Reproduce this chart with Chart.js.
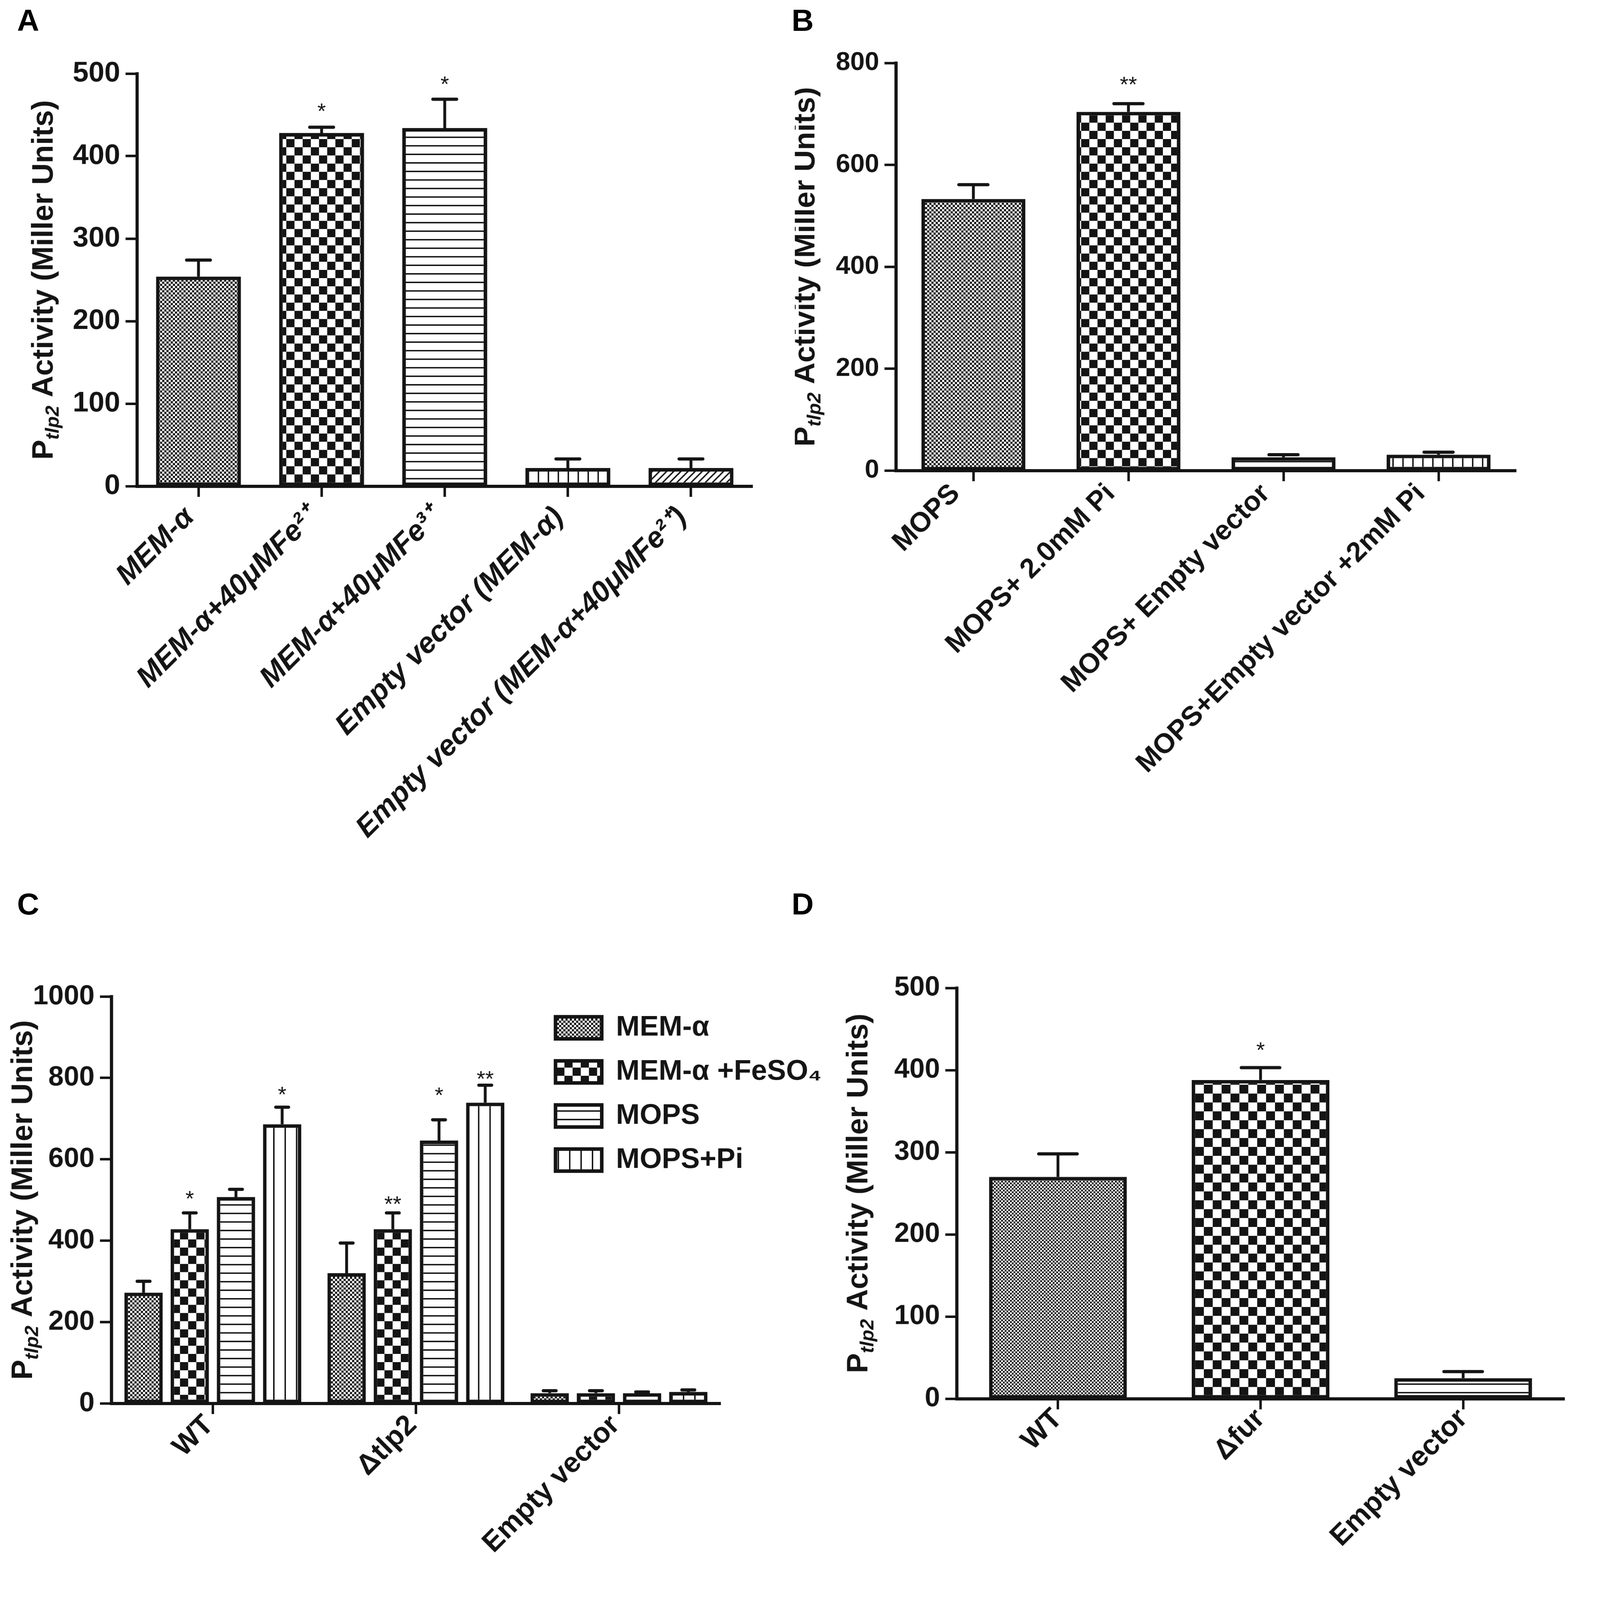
<!DOCTYPE html>
<html><head><meta charset="utf-8">
<script src="https://cdn.jsdelivr.net/npm/chart.js@4"></script>
<style>
html,body{margin:0;padding:0;background:#fff;overflow:hidden;}
#wrap{width:4470px;height:4499px;position:relative;transform-origin:0 0;background:#fff;}
canvas{position:absolute;}
.lbl{position:absolute;font:bold 86px "Liberation Sans",Arial,sans-serif;color:#000;line-height:1;}
</style></head><body>
<div id="wrap">
<div class="lbl" style="left:48px;top:14px">A</div>
<div class="lbl" style="left:2226px;top:14px">B</div>
<div class="lbl" style="left:48px;top:2498px">C</div>
<div class="lbl" style="left:2226px;top:2498px">D</div>
<canvas id="cA" width="2235" height="2450" style="left:0;top:0"></canvas>
<canvas id="cB" width="2235" height="2450" style="left:2235px;top:0"></canvas>
<canvas id="cC" width="2400" height="2049" style="left:0;top:2450px"></canvas>
<canvas id="cD" width="2235" height="2049" style="left:2235px;top:2450px"></canvas>
</div>
<script>
// ---------------- DATA ----------------
const catsA = ['MEM-\u03b1', 'MEM-\u03b1+40\u03bcMFe\u00b2\u207a', 'MEM-\u03b1+40\u03bcMFe\u00b3\u207a', 'Empty vector (MEM-\u03b1)', 'Empty vector (MEM-\u03b1+40\u03bcMFe\u00b2\u207a)'];
const valsA = [254, 428, 434, 22, 22];
const errA = [274, 435, 469, 33, 33];
const starA = ['', '*', '*', '', ''];
const starPosA = [null, 461, 494, null, null];
const yTicksA = [0, 100, 200, 300, 400, 500];

const catsB = ['MOPS', 'MOPS+ 2.0mM Pi', 'MOPS+ Empty vector', 'MOPS+Empty vector +2mM Pi'];
const valsB = [533, 704, 26, 31];
const errB = [561, 720, 31, 36];
const starB = ['', '**', '', ''];
const starPosB = [null, 768, null, null];
const yTicksB = [0, 200, 400, 600, 800];

const catsC = ['WT', '\u0394tlp2', 'Empty vector'];
const seriesC = ['MEM-\u03b1', 'MEM-\u03b1 +FeSO\u2084', 'MOPS', 'MOPS+Pi'];
const memC = [272, 320, 25];
const memErrC = [300, 394, 31];
const memStarC = ['', '', ''];
const memStarPosC = [null, null, null];
const feC = [428, 428, 25];
const feErrC = [468, 468, 31];
const feStarC = ['*', '**', ''];
const feStarPosC = [516, 503, null];
const mopsC = [507, 646, 25];
const mopsErrC = [526, 697, 28];
const mopsStarC = ['', '*', ''];
const mopsStarPosC = [null, 771, null];
const piC = [686, 739, 28];
const piErrC = [728, 782, 33];
const piStarC = ['*', '**', ''];
const piStarPosC = [772, 811, null];
const yTicksC = [0, 200, 400, 600, 800, 1000];

const catsD = ['WT', '\u0394fur', 'Empty vector'];
const valsD = [270, 388, 25];
const errD = [298, 403, 33];
const starD = ['', '*', ''];
const starPosD = [null, 431, null];
const yTicksD = [0, 100, 200, 300, 400, 500];

// ---------------- FIT PAGE TO VIEWPORT ----------------
(function () {
  const s = Math.min(window.innerWidth / 4470, window.innerHeight / 4499);
  if (s > 0 && Math.abs(s - 1) > 0.002) document.getElementById('wrap').style.transform = 'scale(' + s + ')';
})();

// ---------------- STYLE ----------------
const INK = '#141414';
const SANS = '"Liberation Sans", Arial, sans-serif';

function pat(draw, w, h) {
  const c = document.createElement('canvas');
  c.width = w; c.height = h;
  const x = c.getContext('2d');
  x.fillStyle = '#fff'; x.fillRect(0, 0, w, h);
  x.fillStyle = INK; x.strokeStyle = INK;
  draw(x, w, h);
  return x.createPattern(c, 'repeat');
}
const check = (s) => pat((x) => { x.fillRect(0, 0, s, s); x.fillRect(s, s, s, s); }, 2 * s, 2 * s);
const hStripe = (p, lw) => pat((x) => { x.fillRect(0, 0, p, lw); }, p, p);
const vStripe = (p, lw) => pat((x) => { x.fillRect(0, 0, lw, p); }, p, p);
const diag = (p, lw) => pat((x) => {
  x.lineWidth = lw;
  x.beginPath();
  x.moveTo(-p, 2 * p); x.lineTo(2 * p, -p);
  x.moveTo(-p, p); x.lineTo(p, -p);
  x.moveTo(0, 2 * p); x.lineTo(2 * p, 0);
  x.stroke();
}, p, p);

const fine = check(6), fineD = check(5), coarse = check(23), coarseD = check(25);
const hs = hStripe(24, 4), vs = vStripe(28, 4), vsC = vStripe(32, 4), dg = diag(20, 4);

// ---------------- PLUGINS ----------------
const errPlugin = {
  id: 'errbars',
  afterDatasetsDraw(chart) {
    const ctx = chart.ctx, ys = chart.scales.y;
    const o = chart.options.plugins.errbars;
    chart.data.datasets.forEach((ds, i) => {
      const meta = chart.getDatasetMeta(i);
      meta.data.forEach((bar, j) => {
        const yv = ys.getPixelForValue(ds.data[j]);
        const ye = ys.getPixelForValue(ds.err[j]);
        const cw = Math.max(o.capMin, bar.width * o.capFrac);
        ctx.save();
        ctx.strokeStyle = INK;
        ctx.lineWidth = o.lw;
        ctx.beginPath(); ctx.moveTo(bar.x, yv); ctx.lineTo(bar.x, ye); ctx.stroke();
        ctx.lineWidth = o.capLw;
        ctx.lineCap = 'round';
        ctx.beginPath(); ctx.moveTo(bar.x - cw / 2, ye); ctx.lineTo(bar.x + cw / 2, ye); ctx.stroke();
        if (ds.stars && ds.stars[j]) {
          const sy = ys.getPixelForValue(ds.starPos[j]);
          ctx.fillStyle = INK;
          ctx.font = o.starSize + 'px ' + SANS;
          ctx.textAlign = 'center';
          ctx.textBaseline = 'alphabetic';
          ctx.fillText(ds.stars[j], bar.x, sy + 0.575 * o.starSize);
        }
        ctx.restore();
      });
    });
  }
};

const titlePlugin = {
  id: 'ytitle',
  afterDraw(chart) {
    const o = chart.options.plugins.ytitle;
    const a = chart.chartArea, ctx = chart.ctx;
    const F = o.size, S = Math.round(F * 0.64);
    const parts = [
      { t: 'P', f: 'bold ' + F + 'px ' + SANS, dy: 0 },
      { t: 'tlp2', f: 'italic bold ' + S + 'px ' + SANS, dy: 0.2 * F },
      { t: ' Activity (Miller Units)', f: 'bold ' + F + 'px ' + SANS, dy: 0 }
    ];
    ctx.save();
    let total = 0;
    parts.forEach(p => { ctx.font = p.f; p.w = ctx.measureText(p.t).width; total += p.w; });
    ctx.translate(a.left - o.offset, (a.top + a.bottom) / 2);
    ctx.rotate(-Math.PI / 2);
    ctx.fillStyle = INK;
    ctx.textBaseline = 'alphabetic';
    ctx.textAlign = 'left';
    let x = -total / 2;
    const base = 0.358 * F;
    parts.forEach(p => { ctx.font = p.f; ctx.fillText(p.t, x, base + p.dy); x += p.w; });
    ctx.restore();
  }
};

const legendPlace = {
  id: 'legendPlace',
  afterLayout(chart) {
    const o = chart.options.plugins.legendPlace;
    if (!o || !chart.legend) return;
    const lg = chart.legend;
    lg.left = o.left; lg.top = o.top; lg.right = o.left + lg.width; lg.bottom = o.top + 2000;
  }
};

// ---------------- BUILDER ----------------
function build(id, p) {
  const cv = document.getElementById(id);
  const W = cv.width, H = cv.height;
  const fitY = (s) => { s.width = p.yW; s.paddingTop = 0; s.paddingBottom = 0; s.paddingLeft = 0; s.paddingRight = 0; };
  const fitX = (s) => { s.height = H - p.area.b; s.paddingTop = 0; s.paddingBottom = 0; s.paddingLeft = 0; s.paddingRight = 0; };
  return new Chart(cv, {
    type: 'bar',
    data: { labels: p.labels, datasets: p.datasets },
    options: {
      responsive: false,
      animation: false,
      devicePixelRatio: 1,
      layout: { padding: { left: p.area.l - p.yW, top: p.area.t, right: W - p.area.r, bottom: 0 } },
      datasets: { bar: { categoryPercentage: p.catPct, barPercentage: p.barPct, borderWidth: 10, borderColor: INK, borderSkipped: false } },
      scales: {
        x: {
          offset: true,
          afterFit: fitX,
          grid: { display: true, drawOnChartArea: false, offset: false, tickLength: 30, tickWidth: 7, tickColor: INK },
          border: { display: true, color: INK, width: 9 },
          ticks: { autoSkip: false, minRotation: 45, maxRotation: 45, padding: p.xPad, labelOffset: p.xShift, color: INK, font: p.xFont }
        },
        y: {
          min: p.yTicks[0], max: p.yTicks[p.yTicks.length - 1],
          afterFit: fitY,
          afterBuildTicks: (s) => { s.ticks = p.yTicks.map(v => ({ value: v })); },
          grid: { display: true, drawOnChartArea: false, tickLength: 32, tickWidth: 7, tickColor: INK },
          border: { display: true, color: INK, width: 9 },
          ticks: { padding: 15, color: INK, font: p.yFont, callback: (v) => String(v) }
        }
      },
      plugins: {
        legend: p.legend || { display: false },
        tooltip: { enabled: false },
        errbars: { lw: 8, capLw: 9, capFrac: 0.28, capMin: 36, starSize: 62 },
        ytitle: { size: 84, offset: p.titleOff },
        legendPlace: p.legendPlace || null
      }
    },
    plugins: [errPlugin, titlePlugin, legendPlace]
  });
}

const bold = (size, italic) => ({ family: SANS, size: size, weight: 'bold', style: italic ? 'italic' : 'normal' });

build('cA', {
  labels: catsA,
  datasets: [{ label: 'A', data: valsA, err: errA, stars: starA, starPos: starPosA, backgroundColor: [fine, coarse, hs, vs, dg] }],
  area: { l: 385, t: 207, r: 2116, b: 1367 }, yW: 300,
  catPct: 1, barPct: 0.69, yTicks: yTicksA,
  yFont: bold(80), xFont: bold(82, true), xPad: 10, xShift: -25, titleOff: 267
});

build('cB', {
  labels: catsB,
  datasets: [{ label: 'B', data: valsB, err: errB, stars: starB, starPos: starPosB, backgroundColor: [fine, coarse, hs, vs] }],
  area: { l: 284, t: 177, r: 2028, b: 1323 }, yW: 250,
  catPct: 1, barPct: 0.67, yTicks: yTicksB,
  yFont: bold(73), xFont: bold(78), xPad: -10, xShift: -50, titleOff: 259
});

build('cC', {
  labels: catsC,
  datasets: [
    { label: seriesC[0], data: memC, err: memErrC, stars: memStarC, starPos: memStarPosC, backgroundColor: fine },
    { label: seriesC[1], data: feC, err: feErrC, stars: feStarC, starPos: feStarPosC, backgroundColor: coarse },
    { label: seriesC[2], data: mopsC, err: mopsErrC, stars: mopsStarC, starPos: mopsStarPosC, backgroundColor: hs },
    { label: seriesC[3], data: piC, err: piErrC, stars: piStarC, starPos: piStarPosC, backgroundColor: vsC }
  ],
  area: { l: 313, t: 352, r: 2026, b: 1496 }, yW: 260,
  catPct: 0.91, barPct: 0.83, yTicks: yTicksC,
  yFont: bold(78), xFont: bold(80), xPad: -15, xShift: -10, titleOff: 253,
  legend: {
    display: true, position: 'chartArea', align: 'start',
    labels: { boxWidth: 130, boxHeight: 62, padding: 44, color: INK, font: bold(80) }
  },
  legendPlace: { left: 1518, top: 356 }
});

build('cD', {
  labels: catsD,
  datasets: [{ label: 'D', data: valsD, err: errD, stars: starD, starPos: starPosD, backgroundColor: [fineD, coarseD, hs] }],
  area: { l: 455, t: 328, r: 2164, b: 1483 }, yW: 300,
  catPct: 1, barPct: 0.68, yTicks: yTicksD,
  yFont: bold(77), xFont: bold(80), xPad: -20, xShift: 0, titleOff: 281
});
</script>
</body></html>
